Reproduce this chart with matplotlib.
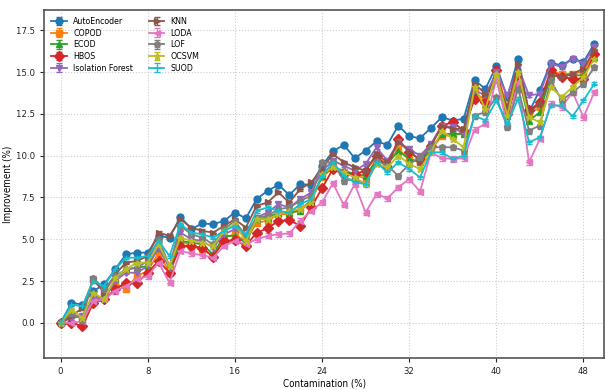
import matplotlib
matplotlib.use("Agg")
from matplotlib import pyplot as plt
import numpy as np

plt.rcParams["font.family"] = ["DejaVu Sans"]
plt.rcParams["font.stretch"] = "condensed"

# contamination levels (%)
contamination = list(range(50))

methods = ["AutoEncoder", "COPOD", "ECOD", "HBOS", "Isolation Forest",
           "KNN", "LODA", "LOF", "OCSVM", "SUOD"]
markers = ["o", "s", "^", "D", "v", ">", "<", "p", "*", "+"]

autoencoder = [0.0, 1.2, 1.1, 1.9, 2.3, 3.2, 4.1, 4.2, 4.2, 5.2,
               5.1, 6.35, 5.6, 5.95, 5.9, 6.1, 6.6, 6.25, 7.4, 7.9,
               8.25, 7.65, 8.3, 8.25, 9.4, 10.25, 10.65, 9.85, 10.3, 10.85,
               10.65, 11.8, 11.15, 11.05, 11.65, 12.3, 12.1, 12.2, 14.5, 14.0,
               15.35, 13.5, 15.8, 12.6, 13.95, 15.55, 15.4, 15.8, 15.6, 16.7]
copod = [0.0, 0.5, 0.3, 1.4, 1.5, 2.4, 2.0, 2.8, 3.1, 4.2,
         3.0, 4.9, 4.6, 4.4, 4.0, 5.1, 5.3, 4.9, 6.0, 6.1,
         6.5, 6.5, 6.8, 7.3, 8.7, 9.3, 9.0, 8.9, 8.6, 9.9,
         9.5, 10.4, 9.8, 9.6, 10.3, 11.2, 11.2, 11.4, 13.8, 13.3,
         15.0, 12.9, 14.9, 12.5, 12.9, 15.0, 14.9, 14.9, 15.0, 16.2]
ecod = [0.0, 0.5, 0.3, 1.6, 1.5, 2.6, 3.2, 3.3, 3.4, 4.5,
        3.3, 4.9, 4.8, 4.7, 4.1, 5.2, 5.2, 4.8, 6.2, 6.3,
        6.6, 6.6, 6.7, 7.3, 8.8, 9.3, 9.1, 8.9, 8.8, 9.7,
        9.5, 10.3, 9.8, 9.6, 10.4, 11.3, 11.3, 11.3, 13.6, 13.0,
        14.6, 12.4, 14.8, 12.1, 12.6, 14.8, 14.8, 14.8, 14.8, 15.9]
hbos = [0.0, 0.0, -0.2, 1.2, 1.4, 2.0, 2.4, 2.4, 3.0, 3.7,
        3.0, 4.6, 4.6, 4.5, 3.95, 4.9, 4.95, 4.6, 5.4, 5.65,
        6.1, 6.15, 5.8, 6.9, 8.05, 9.2, 8.9, 8.9, 9.1, 10.0,
        9.3, 11.0, 10.2, 9.8, 10.6, 11.8, 12.0, 11.5, 13.4, 13.2,
        15.1, 12.5, 14.5, 12.7, 13.2, 15.1, 14.7, 14.6, 14.6, 16.1]
iforest = [0.0, 0.3, 0.4, 1.5, 1.4, 2.5, 3.0, 3.0, 3.4, 4.5,
           3.3, 5.4, 5.0, 4.9, 4.5, 5.3, 5.6, 5.2, 6.3, 6.6,
           7.1, 6.9, 7.4, 7.8, 9.1, 9.7, 9.4, 9.1, 9.5, 10.5,
           9.7, 10.8, 10.4, 10.0, 10.7, 11.8, 11.7, 11.3, 13.9, 13.6,
           15.0, 13.6, 15.3, 13.6, 13.7, 15.5, 15.3, 15.8, 15.5, 16.5]
knn = [0.0, 0.4, 0.9, 2.6, 1.8, 2.9, 3.6, 3.7, 4.0, 5.4,
       5.2, 6.2, 5.7, 5.5, 5.4, 5.8, 6.2, 5.7, 7.0, 7.2,
       7.8, 7.2, 8.0, 8.4, 9.2, 10.1, 9.6, 9.3, 9.1, 10.1,
       9.6, 10.8, 10.3, 9.7, 10.6, 11.8, 11.6, 11.6, 14.3, 13.7,
       14.5, 12.9, 15.5, 12.6, 13.1, 14.8, 14.7, 14.9, 15.2, 16.3]
loda = [0.0, 0.0, 0.1, 1.3, 1.4, 1.9, 2.2, 2.6, 2.8, 3.6,
        2.4, 4.3, 4.15, 4.05, 3.9, 4.6, 4.9, 4.7, 5.0, 5.2,
        5.3, 5.35, 6.1, 6.7, 7.2, 8.35, 7.05, 8.3, 6.6, 7.7,
        7.45, 8.1, 8.6, 7.85, 10.2, 9.85, 9.8, 9.85, 11.55, 11.9,
        14.6, 11.8, 14.4, 9.6, 11.0, 13.1, 12.9, 13.8, 12.3, 13.8]
lof = [0.0, 0.6, 0.2, 2.7, 2.0, 2.8, 3.2, 3.3, 3.7, 5.0,
       3.4, 5.8, 5.3, 5.1, 4.7, 5.6, 6.1, 5.2, 6.3, 6.4,
       6.8, 6.9, 7.3, 7.6, 9.6, 9.6, 8.5, 8.6, 8.3, 9.7,
       9.4, 8.8, 9.5, 9.9, 10.5, 10.5, 10.5, 10.3, 12.4, 12.6,
       13.5, 11.7, 14.0, 11.5, 11.8, 14.5, 13.3, 13.8, 14.3, 15.3]
ocsvm = [0.0, 0.8, 0.3, 1.8, 1.4, 2.7, 3.2, 3.6, 3.6, 4.7,
         3.4, 5.1, 4.9, 4.8, 4.6, 5.5, 5.9, 4.9, 6.2, 6.2,
         6.5, 6.7, 6.8, 7.2, 8.9, 9.3, 9.0, 8.7, 8.3, 9.5,
         9.3, 10.0, 9.5, 9.2, 10.2, 11.5, 11.0, 10.5, 14.1, 12.8,
         14.9, 12.4, 15.0, 12.3, 12.0, 14.1, 13.5, 14.1, 14.7, 15.8]
suod = [0.0, 1.1, 1.0, 2.5, 2.2, 3.2, 3.9, 3.9, 4.0, 4.9,
        4.0, 5.9, 5.4, 5.3, 5.1, 5.5, 5.8, 5.3, 6.7, 6.9,
        6.7, 6.6, 7.1, 7.4, 8.8, 9.6, 8.8, 8.4, 8.3, 9.6,
        9.0, 9.6, 9.2, 8.7, 10.2, 10.2, 9.8, 10.0, 12.4, 12.1,
        13.3, 11.9, 13.4, 10.8, 11.1, 13.0, 13.0, 12.35, 13.3, 14.3]

# spread over repeated runs, one value per method
spread = [0.1, 0.12, 0.1, 0.12, 0.1, 0.1, 0.15, 0.12, 0.12, 0.1]

series = [autoencoder, copod, ecod, hbos, iforest, knn, loda, lof, ocsvm, suod]

fig = plt.figure(figsize=(6.06, 3.9), dpi=100)
ax = fig.add_axes([0.073, 0.082, 0.924, 0.892])

for name, vals, mk, err in zip(methods, series, markers, spread):
    ax.errorbar(contamination, vals, yerr=err, label=name, marker=mk,
                markersize=5, linewidth=1.3, capsize=2.5, elinewidth=0.8)

ax.set_xlim(-1.5, 49.9)
ax.set_ylim(-2.1, 18.7)
ax.set_xticks(np.arange(0, 49, 8))
ax.set_yticks(np.arange(0, 18, 2.5))
ax.tick_params(labelsize=6.8, length=3, width=0.8, colors="#222222")
ax.grid(True, linestyle=":", color="#cccccc", linewidth=0.8)
for s in ax.spines.values():
    s.set_color("#555555")
    s.set_linewidth(1.2)
ax.set_xlabel("Contamination (%)", fontsize=7, labelpad=2)
ax.set_ylabel("Improvement (%)", fontsize=7, labelpad=2)
ax.legend(loc="upper left", ncol=2, fontsize=6.3, frameon=False,
          labelspacing=0.3, handlelength=1.8, handletextpad=0.7,
          columnspacing=1.8, borderaxespad=0.4)

fig.savefig("out.png", dpi=100)
